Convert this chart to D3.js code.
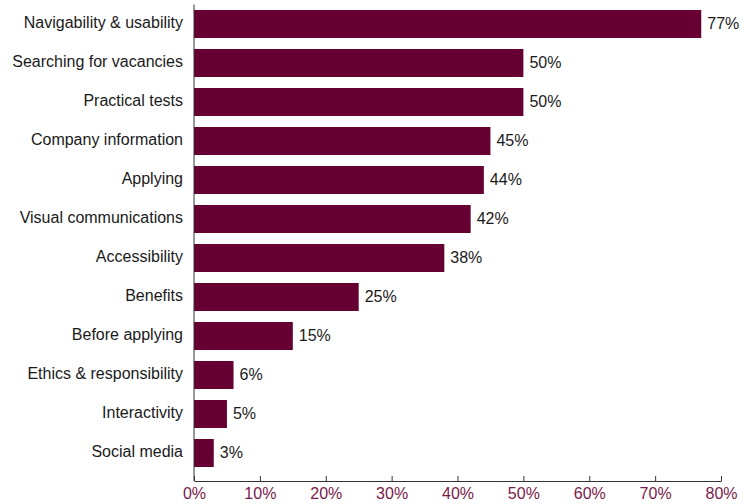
<!DOCTYPE html>
<html>
<head>
<meta charset="utf-8">
<script src="https://cdn.jsdelivr.net/npm/d3@7"></script>
<style>
  body { margin: 0; background: #fff; }
  svg { display: block; font-family: "Liberation Sans", Arial, sans-serif; }
</style>
</head>
<body>
<div class="chart"></div>
<script>
const categories = ["Navigability & usability", "Searching for vacancies", "Practical tests",
    "Company information", "Applying", "Visual communications", "Accessibility", "Benefits",
    "Before applying", "Ethics & responsibility", "Interactivity", "Social media"]
const values = [77, 50, 50, 45, 44, 42, 38, 25, 15, 6, 5, 3]
const tickValues = [0, 10, 20, 30, 40, 50, 60, 70, 80]

const width = 746, height = 504
const plotLeft = 194, plotRight = 721
const plotTop = 4.5, step = 39, axisY = 481

const data = categories.map(function(c, i) { return {category: c, value: values[i]} })

const x = d3.scaleLinear()
    .domain([0, 80])
    .range([plotLeft, plotRight])

const y = d3.scaleBand()
    .domain(categories)
    .range([plotTop, plotTop + step * categories.length])
    .paddingInner(11 / 39)
    .paddingOuter(11 / 78)

const svg = d3.select(".chart").append("svg")
    .attr("width", width)
    .attr("height", height)

svg.selectAll(".bar")
    .data(data)
  .enter().append("rect")
    .attr("class", "bar")
    .attr("x", x(0))
    .attr("y", function(d) { return y(d.category) })
    .attr("width", function(d) { return x(d.value) - x(0) })
    .attr("height", y.bandwidth())
    .style("fill", "#660033")

svg.selectAll(".value")
    .data(data)
  .enter().append("text")
    .attr("class", "value")
    .attr("x", function(d) { return x(d.value) + 6 })
    .attr("y", function(d) { return y(d.category) + y.bandwidth() / 2 - 1 })
    .attr("dy", ".35em")
    .style("font-size", "16px")
    .style("fill", "#1a1a1a")
    .text(function(d) { return d.value + "%" })

// category axis
const yAxis = svg.append("g")
    .attr("transform", "translate(" + plotLeft + ",0)")
    .call(d3.axisLeft(y).tickSize(0).tickPadding(11))
yAxis.select(".domain")
    .attr("d", "M0," + plotTop + "V" + axisY)
    .style("stroke", "#333")
yAxis.selectAll("text")
    .attr("dy", "0.26em")
    .style("font-size", "16px")
    .style("font-family", "Liberation Sans, Arial, sans-serif")
    .style("fill", "#1a1a1a")

// value axis, ticks pointing up
const xAxis = svg.append("g")
    .attr("transform", "translate(0," + axisY + ")")
    .call(d3.axisBottom(x)
        .tickValues(tickValues)
        .tickSize(0)
        .tickPadding(7)
        .tickFormat(function(d) { return d + "%" }))
xAxis.select(".domain").style("stroke", "#333")
xAxis.selectAll(".tick line")
    .attr("y2", -5)
    .style("stroke", "#333")
xAxis.selectAll("text")
    .style("font-size", "16px")
    .style("font-family", "Liberation Sans, Arial, sans-serif")
    .style("fill", "#7a1a4a")
</script>
</body>
</html>
